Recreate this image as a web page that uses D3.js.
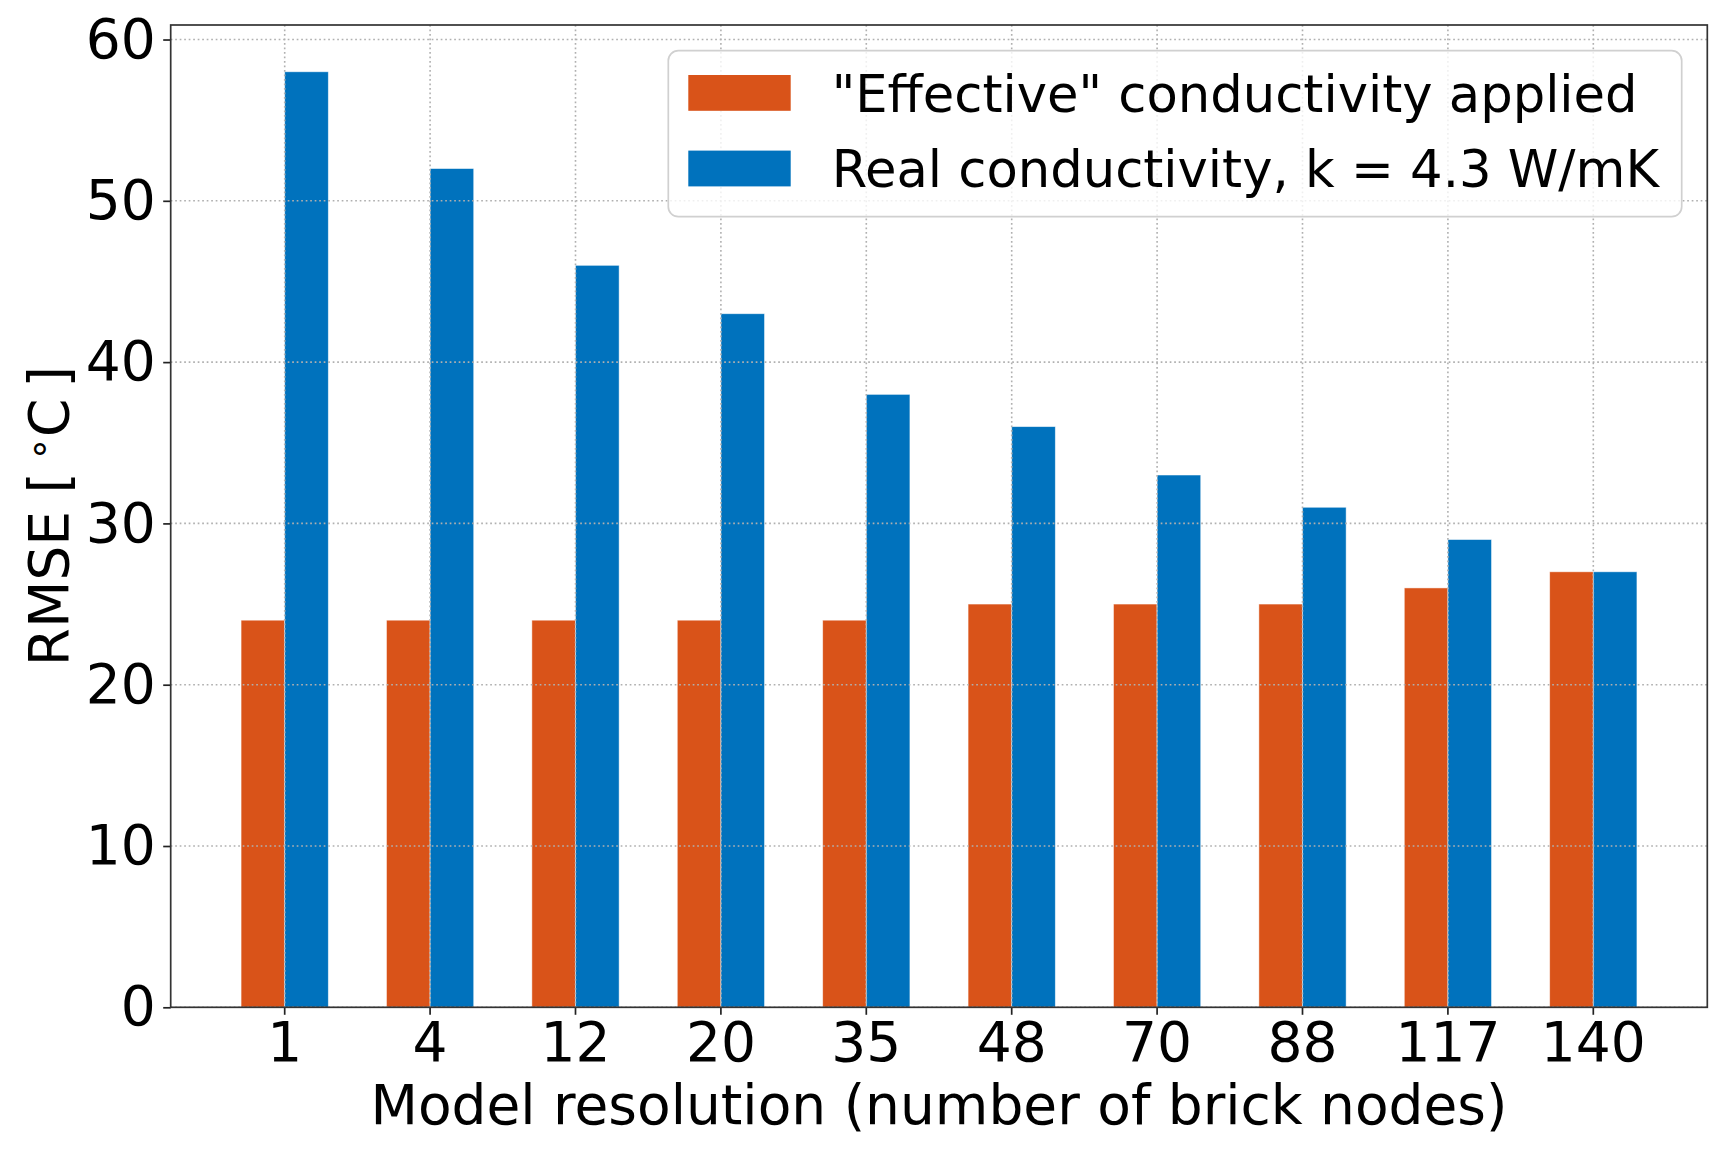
<!DOCTYPE html>
<html>
<head>
<meta charset="utf-8">
<script src="https://cdn.jsdelivr.net/npm/d3@7/dist/d3.min.js"></script>
<style>
  body { margin: 0; background: white; }
  text { font-family: "DejaVu Sans", sans-serif; }
</style>
</head>
<body>
<div id="chart"></div>
<script>
var categories = ["1", "4", "12", "20", "35", "48", "70", "88", "117", "140"];
var effective = [24, 24, 24, 24, 24, 25, 25, 25, 26, 27];
var real = [58, 52, 46, 43, 38, 36, 33, 31, 29, 27];
var seriesNames = ["\"Effective\" conductivity applied", "Real conductivity, k = 4.3 W/mK"];
var seriesColors = ["#D95319", "#0072BD"];
var yTicks = [0, 10, 20, 30, 40, 50, 60];

var W = 1732, H = 1161, fs = 51.2, tfs = 55;
var margin = {top: 25, right: 24.7, bottom: 153.7, left: 170.7},
    width = W - margin.left - margin.right,
    height = H - margin.top - margin.bottom;

var svg = d3.select("#chart").append("svg")
    .attr("width", W)
    .attr("height", H)
    .append("g")
    .attr("transform", `translate(${margin.left},${margin.top})`);

var xScale = d3.scaleBand()
    .domain(categories)
    .range([0, width])
    .paddingInner(0.4)
    .paddingOuter(0.484);

var xSub = d3.scaleBand()
    .domain([0, 1])
    .range([0, xScale.bandwidth()]);

var yScale = d3.scaleLinear()
    .domain([0, d3.max(real) * 1.05])
    .range([height, 0]);

var rows = categories.map((c, i) => ({cat: c, vals: [effective[i], real[i]]}));

// bars
svg.selectAll("g.grp")
    .data(rows)
    .enter().append("g")
    .attr("class", "grp")
    .attr("transform", d => `translate(${xScale(d.cat)},0)`)
    .selectAll("rect")
    .data(d => d.vals)
    .enter().append("rect")
    .attr("x", (v, j) => xSub(j))
    .attr("width", xSub.bandwidth())
    .attr("y", v => yScale(v))
    .attr("height", v => height - yScale(v))
    .attr("fill", (v, j) => seriesColors[j])
    .attr("stroke", "white")
    .attr("stroke-opacity", 0.6)
    .attr("stroke-width", 0.8);

// grid on top of bars
var grid = svg.append("g").attr("class", "grid");
grid.selectAll("line.h")
    .data(yTicks)
    .enter().append("line")
    .attr("x1", 0).attr("x2", width)
    .attr("y1", d => yScale(d)).attr("y2", d => yScale(d));
grid.selectAll("line.v")
    .data(categories)
    .enter().append("line")
    .attr("x1", d => xScale(d) + xScale.bandwidth() / 2)
    .attr("x2", d => xScale(d) + xScale.bandwidth() / 2)
    .attr("y1", 0).attr("y2", height);
grid.selectAll("line")
    .attr("stroke", "#b0b0b0")
    .attr("stroke-width", 1.6)
    .attr("stroke-dasharray", "1.7,2.8");

// axes
var xAxis = svg.append("g")
    .attr("transform", `translate(0,${height})`)
    .call(d3.axisBottom(xScale).tickSize(7.5).tickPadding(7.5));
var yAxis = svg.append("g")
    .call(d3.axisLeft(yScale).tickValues(yTicks).tickSize(7.5).tickPadding(7.5));
[xAxis, yAxis].forEach(a => {
    a.select(".domain").remove();
    a.selectAll("line").attr("stroke", "#222").attr("stroke-width", 1.7);
    a.selectAll("text").attr("font-size", tfs + "px").attr("fill", "black")
        .style("font-family", "'DejaVu Sans', sans-serif");
});

// frame
svg.append("rect")
    .attr("width", width).attr("height", height)
    .attr("fill", "none").attr("stroke", "#333").attr("stroke-width", 1.7);

// axis labels
svg.append("text")
    .attr("x", width / 2)
    .attr("y", 1123.5 - margin.top)
    .attr("text-anchor", "middle")
    .attr("font-size", tfs + "px")
    .text("Model resolution (number of brick nodes)");

var yl = svg.append("text")
    .attr("transform", `translate(${68 - margin.left},${height / 2}) rotate(-90)`)
    .attr("text-anchor", "middle")
    .attr("font-size", tfs + "px");
yl.append("tspan").text("RMSE [\u2009");
yl.append("tspan").attr("font-size", (tfs * 0.7) + "px").attr("dy", -tfs * 0.3).text("∘");
yl.append("tspan").attr("dy", tfs * 0.3).text("C\u2009]");

// legend
var lg = svg.append("g")
    .attr("transform", `translate(${668.3 - margin.left},${50.7 - margin.top})`);
lg.append("rect")
    .attr("width", 1013.4).attr("height", 166)
    .attr("rx", 10).attr("ry", 10)
    .attr("fill", "white").attr("fill-opacity", 0.8)
    .attr("stroke", "#d0d0d0").attr("stroke-width", 1.7);
seriesNames.forEach((name, j) => {
    lg.append("rect")
        .attr("x", 20).attr("y", 24.3 + j * 75.6)
        .attr("width", 102.4).attr("height", 35.8)
        .attr("fill", seriesColors[j]);
    lg.append("text")
        .attr("x", 163.4).attr("y", 61 + j * 75.6)
        .attr("font-size", fs + "px")
        .text(name);
});
</script>
</body>
</html>
